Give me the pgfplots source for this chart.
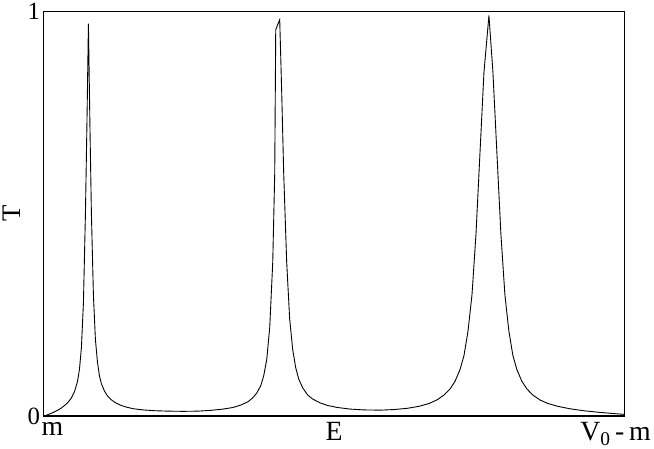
\documentclass[border=0pt]{standalone}
\usepackage{fontspec}
\setmainfont{Liberation Serif}
\usepackage{pgfplots}
\pgfplotsset{compat=1.18}
\pgfplotstableread{
x T
0 0
3 0.002
6 0.005
10 0.009
14 0.014
18 0.02
22 0.028
25 0.035
28 0.045
31 0.06
34 0.085
36 0.115
38 0.17
40 0.28
42 0.5
43.5 0.72
45 0.97
46.5 0.72
48 0.5
50 0.3
52 0.19
54 0.135
56 0.1
58 0.08
61 0.062
64 0.05
68 0.04
72 0.033
77 0.027
83 0.022
90 0.018
100 0.015
112 0.013
125 0.012
140 0.0115
155 0.012
168 0.014
180 0.017
190 0.021
198 0.027
205 0.035
210 0.045
214 0.057
218 0.075
221 0.1
224 0.14
227 0.22
230 0.38
232 0.6
233 0.955
237 0.98
239 0.8
241 0.6
244 0.38
247 0.24
250 0.165
253 0.12
256 0.092
260 0.07
265 0.052
270 0.042
277 0.033
285 0.026
295 0.021
308 0.017
322 0.015
338 0.0145
352 0.016
365 0.019
377 0.024
387 0.031
395 0.04
402 0.052
408 0.067
413 0.086
418 0.115
422 0.15
426 0.21
430 0.3
434 0.45
438 0.65
442 0.85
447 0.99
451 0.85
455 0.65
459 0.45
463 0.3
467 0.21
471 0.15
475 0.115
480 0.086
485 0.067
491 0.052
498 0.04
506 0.031
516 0.024
528 0.018
542 0.013
558 0.009
572 0.006
583 0.004
}\datatable
\begin{document}
\begin{tikzpicture}
\begin{axis}[
  scale only axis, width=583bp, height=406bp,
  xmin=0, xmax=583, ymin=0, ymax=1,
  xtick={9,291.5,574}, xticklabels={m,E,V\textsubscript{0}\,-\,m},
  ytick={0,1},
  major tick length=0pt,
  /pgf/number format/assume math mode=true,
  xticklabel style={font=\fontsize{28}{30}\selectfont, yshift=-3bp},
  yticklabel style={font=\fontsize{25}{28}\selectfont},
  ylabel={T},
  ylabel style={font=\fontsize{27}{30}\selectfont},
  axis line style={line width=1.2bp},
  clip=false,
]
\addplot[black, line width=0.9bp, mark=none] table[x=x,y=T] {\datatable};
\end{axis}
\end{tikzpicture}
\end{document}
